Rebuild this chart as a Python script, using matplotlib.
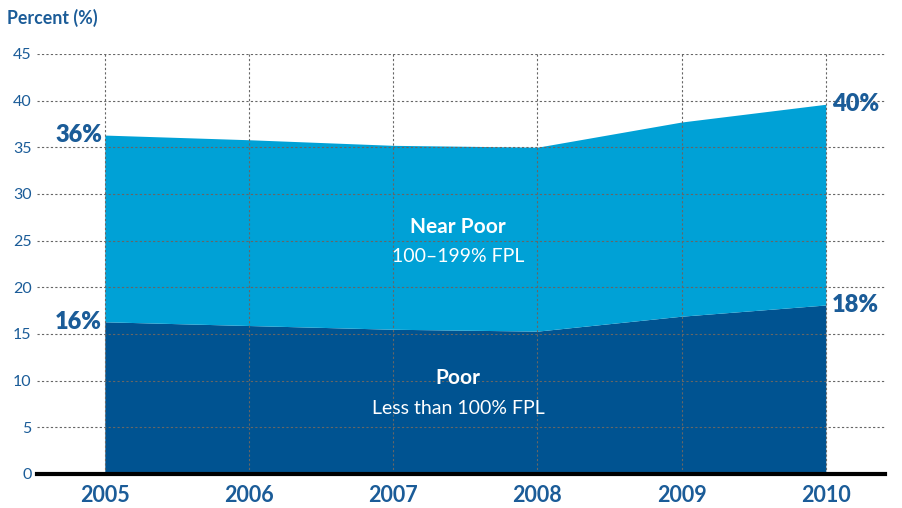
import matplotlib
matplotlib.use('Agg')
import matplotlib.pyplot as plt

years = [2005, 2006, 2007, 2008, 2009, 2010]
poor = [16.3, 15.9, 15.5, 15.3, 16.9, 18.1]
near_poor_total = [36.3, 35.8, 35.2, 35.0, 37.7, 39.6]
yticks = [0, 5, 10, 15, 20, 25, 30, 35, 40, 45]

dark = '#005391'
light = '#00a1d6'
txt = '#1b5c98'

plt.rcParams['font.family'] = ['Lato', 'DejaVu Sans']

fig = plt.figure(figsize=(9.03, 5.08), dpi=100)
ax = fig.add_axes([0.041, 0.067, 0.939, 0.827])

ax.fill_between(years, 0, poor, color=dark, lw=0, zorder=1)
ax.fill_between(years, poor, near_poor_total, color=light, lw=0, zorder=1)

ax.set_xlim(2004.53, 2010.41)
ax.set_ylim(0, 45)
ax.set_yticks(yticks)
ax.set_xticks(years)
ax.set_xticklabels([str(y) for y in years], fontsize=15.5, fontweight='bold', color=txt)
ax.tick_params(axis='y', labelsize=11.5, colors=txt, length=0, pad=4)
ax.tick_params(axis='x', length=0, pad=8)

ax.grid(True, linestyle=(0, (2, 2)), color='#666666', lw=0.8, zorder=3)
ax.set_axisbelow(False)
for s in ['top', 'right', 'left']:
    ax.spines[s].set_visible(False)
ax.spines['bottom'].set_linewidth(3)
ax.spines['bottom'].set_color('black')
ax.spines['bottom'].set_zorder(4)

fig.text(0.008, 0.965, 'Percent (%)', fontsize=12.8, fontweight='bold', color=txt, va='center')

# end labels
ax.text(years[0] - 0.02, near_poor_total[0], '36%', ha='right', va='center',
        fontsize=17, fontweight='heavy', color=txt)
ax.text(years[0] - 0.02, poor[0], '16%', ha='right', va='center',
        fontsize=17, fontweight='heavy', color=txt)
ax.text(years[-1] + 0.04, near_poor_total[-1], '40%', ha='left', va='center',
        fontsize=17, fontweight='heavy', color=txt)
ax.text(years[-1] + 0.04, poor[-1], '18%', ha='left', va='center',
        fontsize=17, fontweight='heavy', color=txt)

ax.text(2007.45, 26.5, 'Near Poor', ha='center', va='center', fontsize=15,
        fontweight='bold', color='white', zorder=5)
ax.text(2007.45, 23.3, '100\u2013199% FPL', ha='center', va='center', fontsize=14,
        color='white', zorder=5)
ax.text(2007.45, 10.3, 'Poor', ha='center', va='center', fontsize=15,
        fontweight='bold', color='white', zorder=5)
ax.text(2007.45, 7.0, 'Less than 100% FPL', ha='center', va='center', fontsize=14,
        color='white', zorder=5)

fig.savefig('out.png', dpi=100)
